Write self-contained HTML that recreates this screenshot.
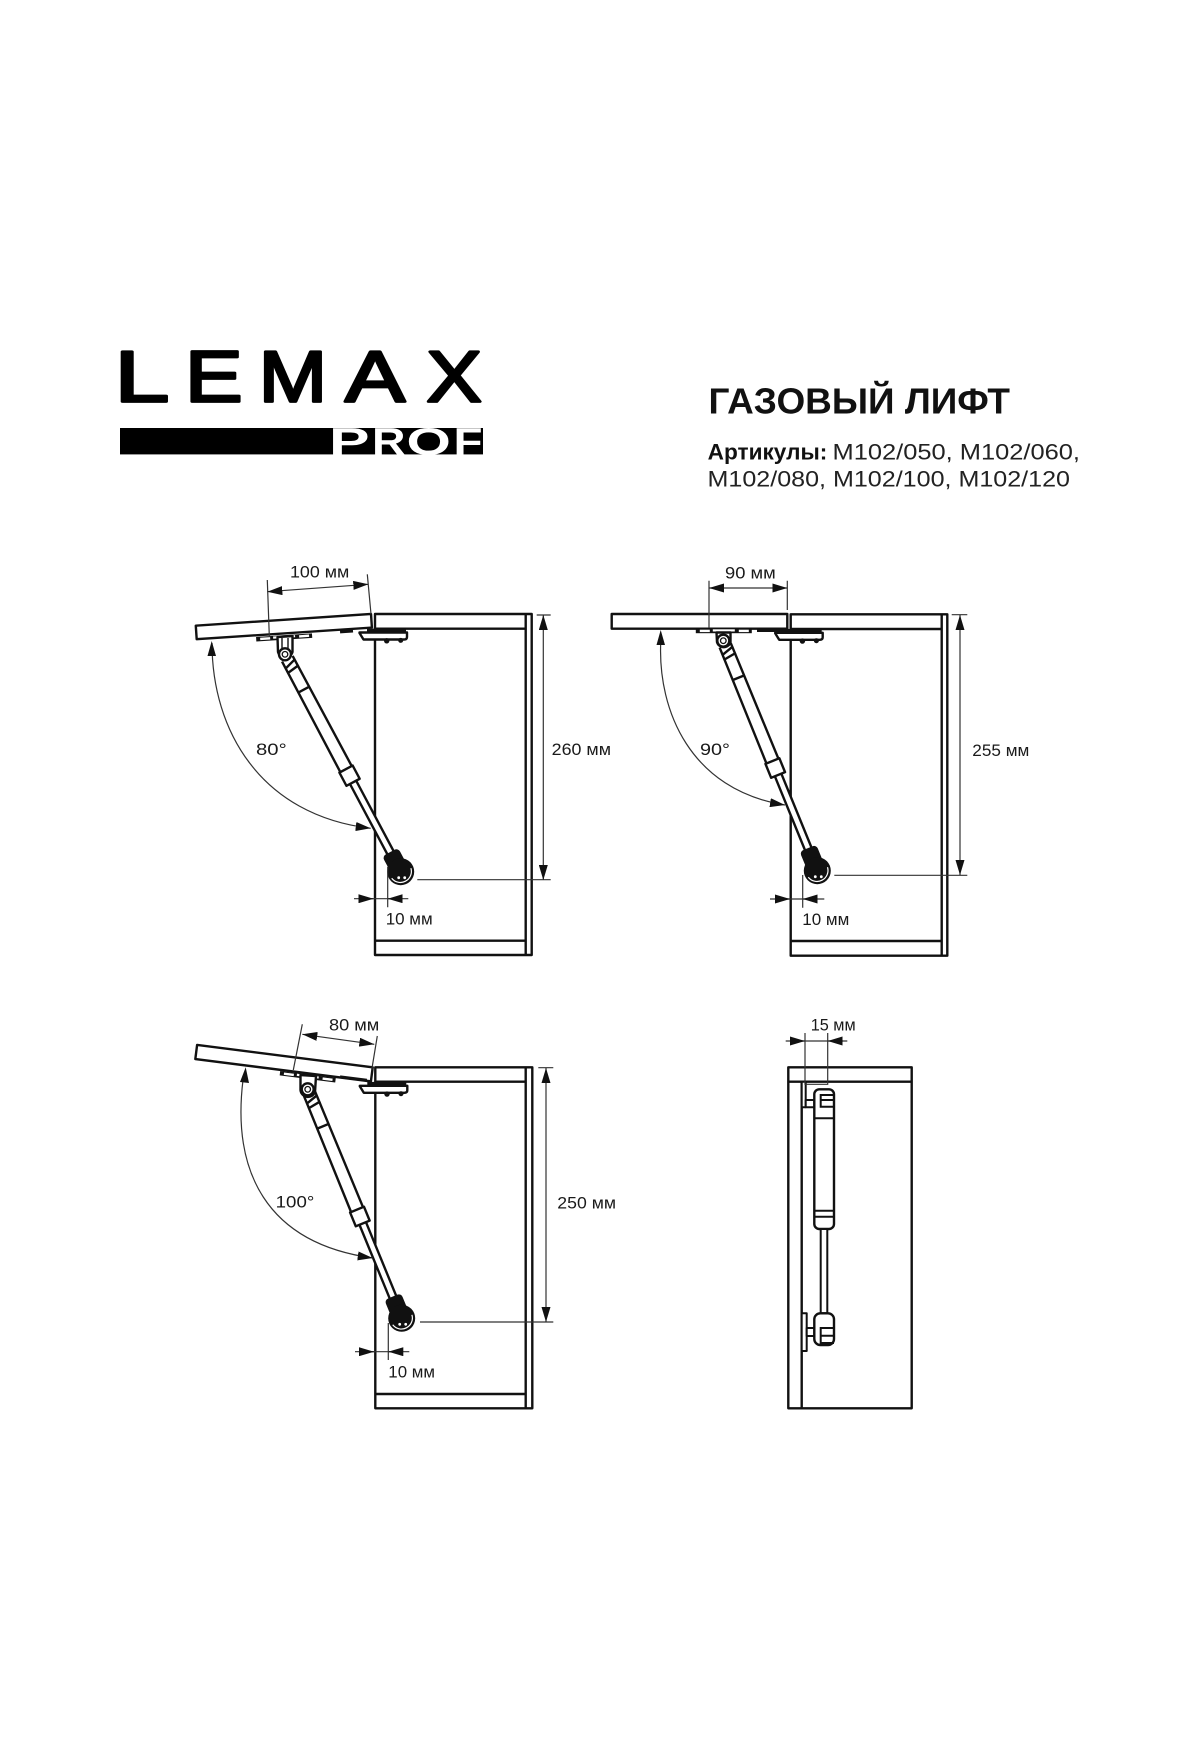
<!DOCTYPE html>
<html lang="ru">
<head>
<meta charset="utf-8">
<title>Газовый лифт</title>
<style>
html,body{margin:0;padding:0;background:#fff;width:1200px;height:1760px;overflow:hidden}
svg{display:block}
text{font-family:"Liberation Sans","DejaVu Sans",sans-serif;fill:#1a1a1a}
.l{font-size:17px}
.m{fill:#fff;stroke:#111;stroke-width:2.4;stroke-linejoin:round}
.n{fill:none;stroke:#111;stroke-width:2.4}
.d{fill:none;stroke:#333;stroke-width:1.2}
.a{fill:none;stroke:#333;stroke-width:1.2;marker-end:url(#ah)}
.b{fill:none;stroke:#333;stroke-width:1.2;marker-end:url(#ah);marker-start:url(#ah)}
.k{fill:#111}
.s{stroke-width:2}
</style>
</head>
<body>
<svg width="1200" height="1760" viewBox="0 0 1200 1760" xmlns="http://www.w3.org/2000/svg">
<defs>
<marker id="ah" viewBox="0 0 15 9" refX="15" refY="4.5" markerWidth="15" markerHeight="9" markerUnits="userSpaceOnUse" orient="auto-start-reverse"><path d="M0,0L15,4.5L0,9Z" fill="#111"/></marker>

<g id="hinge">
<rect x="-8" y="14.6" width="39" height="3.8" class="k"/>
<path class="m" d="M-15.5,19 L-11.5,25.5 L29,25.5 Q32,25.5 32,23 V18.5 H-15.5 Z"/>
<circle class="k" cx="11.7" cy="26.8" r="2.7"/>
<circle class="k" cx="25.7" cy="26.4" r="2.5"/>
</g>

<g id="cyl">
<path class="m" d="M-6,5 L-6.5,144 H6.5 L6,5"/>
<rect class="m" x="-3.5" y="144" width="7" height="84"/>
<path class="n" d="M-6.5,13 L6.5,9"/>
<path class="n" d="M-7,18 L7,16"/>
<path class="n" d="M-7,40 L7,40"/>
<rect class="m" x="-7.5" y="130" width="15" height="15"/>
<rect class="k" x="-9" y="224" width="18" height="20" rx="4"/>
</g>

<g id="wheel">
<circle class="k" r="13.5"/>
<path d="M10.2,-3.5 A11,11 0 0 1 -9,6.5" fill="none" stroke="#fff" stroke-width="1.2"/>
<circle cx="-2" cy="6" r="1.4" fill="#fff"/>
<circle cx="4" cy="6" r="1.4" fill="#fff"/>
</g>

<g id="plate">
<rect x="-28" y="0" width="56" height="4.5" class="k"/>
<rect x="-24" y="1" width="10" height="2.4" fill="#fff"/>
<rect x="-11" y="0.6" width="22" height="2.2" fill="#fff"/>
<rect x="15" y="1" width="10" height="2.4" fill="#fff"/>
</g>

<g id="ring">
<circle r="6" class="m"/>
<circle r="2.8" fill="#fff" stroke="#111" stroke-width="1.3"/>
</g>
</defs>

<!-- LOGO -->
<g style="font-size:72px" stroke="#000" stroke-width="2.8" stroke-linejoin="round">
<text transform="translate(114.5 401.5) scale(1.37 1)" style="fill:#000">L</text>
<text transform="translate(185 401.5) scale(1.2 1)" style="fill:#000">E</text>
<text transform="translate(258.8 401.5) scale(1.14 1)" style="fill:#000">M</text>
<text transform="translate(345 401.5) scale(1.25 1)" style="fill:#000">A</text>
<text transform="translate(426.5 401.5) scale(1.15 1)" style="fill:#000">X</text>
</g>
<rect x="120" y="428" width="363" height="26.4" fill="#000"/>
<g style="font-size:38px;font-weight:bold">
<text transform="translate(329 454.3) scale(1.6 1)" style="fill:#fff">P</text>
<text transform="translate(372 454.3) scale(1.22 1)" style="fill:#fff">R</text>
<text transform="translate(406.5 454.3) scale(1.5 1)" style="fill:#fff">O</text>
<text transform="translate(453.5 454.3) scale(1.25 1)" style="fill:#fff">F</text>
</g>

<!-- TITLE -->
<text x="708.5" y="413.3" font-size="36" font-weight="bold" textLength="301.5" lengthAdjust="spacingAndGlyphs" style="fill:#111">ГАЗОВЫЙ ЛИФТ</text>
<text x="707.7" y="459.3" font-size="22" font-weight="bold" textLength="119.6" lengthAdjust="spacingAndGlyphs" style="fill:#111">Артикулы:</text>
<text x="832.5" y="459.3" font-size="22" textLength="247.5" lengthAdjust="spacingAndGlyphs" style="fill:#222">M102/050, M102/060,</text>
<text x="707.5" y="486.5" font-size="22" textLength="362.5" lengthAdjust="spacingAndGlyphs" style="fill:#222">M102/080, M102/100, M102/120</text>

<!-- DIAGRAM 1 : 80° -->
<rect class="m" x="375" y="614" width="156.7" height="341"/>
<path class="n" d="M375,628.7H525.7M525.7,614V955M375,940.7H525.7"/>
<use href="#hinge" x="375" y="614"/>
<g transform="translate(371 614) rotate(-3.8)">
<rect class="m" x="-175.6" y="0" width="175.6" height="13.6"/>
</g>
<use href="#plate" transform="translate(284 635.2) rotate(-3.8)"/>
<rect class="k" x="340" y="630" width="13" height="3" transform="rotate(-3.8 346 631)"/>
<use href="#cyl" transform="translate(285 654.3) rotate(-28)"/>
<path class="m" d="M277.5,637 L278,652 A7.5,7.5 0 0 0 292.5,652 L292.5,636 Z"/>
<path class="n" d="M282,638V648M288,638V648" style="stroke-width:1.4"/>
<use href="#ring" x="285" y="654.3"/>
<use href="#wheel" x="400.7" y="871.7"/>
<path class="d" d="M267.3,580L269.3,636M367.3,574.3L371,614"/>
<line class="b" x1="267.3" y1="591.7" x2="368.3" y2="584.3"/>
<path class="a" d="M212,643 C212,730 260,815 370.7,828.3" />
<path d="M211.7,641L207.5,656L216,656Z" class="k"/>
<path class="d" d="M387.7,866.7V907.3M354,898.7H408.3M417.3,879.7H550.7M536.7,615H550.7"/>
<line class="a" x1="359" y1="898.7" x2="373.5" y2="898.7"/>
<line class="a" x1="402" y1="898.7" x2="387.7" y2="898.7"/>
<line class="b" x1="543.3" y1="615" x2="543.3" y2="880"/>
<text class="l" x="290" y="577.7" textLength="59.3" lengthAdjust="spacingAndGlyphs">100 мм</text>
<text class="l" x="256" y="755" textLength="30.7" lengthAdjust="spacingAndGlyphs">80°</text>
<text class="l" x="385.7" y="924.3" textLength="47" lengthAdjust="spacingAndGlyphs">10 мм</text>
<text class="l" x="551.7" y="755" textLength="59.3" lengthAdjust="spacingAndGlyphs">260 мм</text>

<!-- DIAGRAM 2 : 90° -->
<rect class="m" x="790.7" y="614.3" width="156.6" height="341.4"/>
<path class="n" d="M790.7,629H941.7M941.7,614.3V955.7M790.7,941H941.7"/>
<use href="#hinge" x="790.7" y="614.3"/>
<rect class="m" x="611.7" y="614" width="175.6" height="14.7"/>
<use href="#plate" x="723.8" y="628.7"/>
<rect class="k" x="757" y="629" width="28" height="3"/>
<use href="#cyl" transform="translate(723.3 640.7) rotate(-22.2)"/>
<path class="m" d="M716.5,632.5 L717,642 A7,7 0 0 0 730.5,642 L730.5,632.5 Z"/>
<use href="#ring" x="723.3" y="640.7"/>
<use href="#wheel" x="817.3" y="870.7"/>
<path class="d" d="M709,580.7V628M787.3,580.7V610"/>
<line class="b" x1="709" y1="588" x2="787.3" y2="588"/>
<path class="a" d="M660.7,643 C658,710 690,790 785,805"/>
<path d="M660.7,630L656.5,645L665,645Z" class="k"/>
<path class="d" d="M802.7,875V907.7M770,899H824.3M834.3,875.3H967.3M951.7,614.7H967.3"/>
<line class="a" x1="775" y1="899" x2="790" y2="899"/>
<line class="a" x1="817" y1="899" x2="802.7" y2="899"/>
<line class="b" x1="960" y1="615" x2="960" y2="875"/>
<text class="l" x="725" y="578.3" textLength="50.7" lengthAdjust="spacingAndGlyphs">90 мм</text>
<text class="l" x="700" y="755" textLength="30" lengthAdjust="spacingAndGlyphs">90°</text>
<text class="l" x="802.3" y="925" textLength="47" lengthAdjust="spacingAndGlyphs">10 мм</text>
<text class="l" x="972.3" y="756" textLength="57" lengthAdjust="spacingAndGlyphs">255 мм</text>

<!-- DIAGRAM 3 : 100° -->
<rect class="m" x="375.3" y="1067.3" width="157" height="341"/>
<path class="n" d="M375.3,1081.7H525.7M525.7,1067.3V1408.3M375.3,1394H525.7"/>
<use href="#hinge" x="375.3" y="1067.3"/>
<g transform="translate(372.7 1067.3) rotate(7.26)">
<rect class="m" x="-177" y="0" width="177" height="14.2"/>
</g>
<use href="#plate" transform="translate(308 1074.5) rotate(7.26)"/>
<rect class="k" x="340" y="1077" width="27" height="3" transform="rotate(7.26 353 1078)"/>
<use href="#cyl" transform="translate(307.7 1089.3) rotate(-22.3)"/>
<path class="m" d="M300.5,1075 L300.5,1090 A7.5,7.5 0 0 0 315,1092 L316,1076 Z"/>
<use href="#ring" x="307.7" y="1089.3"/>
<use href="#wheel" x="401.7" y="1318.3"/>
<path class="d" d="M302.3,1024.3L293.3,1070M377.3,1036L371.7,1070"/>
<line class="b" x1="302.3" y1="1034.3" x2="374.3" y2="1044.3"/>
<path class="a" d="M243,1080 C232,1170 265,1243 372.7,1258"/>
<path d="M245.7,1067.3L240,1082L249,1083Z" class="k"/>
<path class="d" d="M388.3,1323V1360M355,1351.7H409.3M420,1322H553.3M538.3,1067.7H553.3"/>
<line class="a" x1="360" y1="1351.7" x2="374" y2="1351.7"/>
<line class="a" x1="403" y1="1351.7" x2="388.3" y2="1351.7"/>
<line class="b" x1="546" y1="1068" x2="546" y2="1322"/>
<text class="l" x="329" y="1030.7" textLength="50.3" lengthAdjust="spacingAndGlyphs">80 мм</text>
<text class="l" x="275.7" y="1207.3" textLength="38.6" lengthAdjust="spacingAndGlyphs">100°</text>
<text class="l" x="388.3" y="1377.3" textLength="46.7" lengthAdjust="spacingAndGlyphs">10 мм</text>
<text class="l" x="557.3" y="1208.3" textLength="58.7" lengthAdjust="spacingAndGlyphs">250 мм</text>

<!-- DIAGRAM 4 : side view -->
<rect class="m" x="788.3" y="1067.3" width="123.4" height="341"/>
<path class="n" d="M788.3,1081.7H911.7M801.7,1081.7V1408.3"/>
<rect class="m s" x="801.7" y="1081.7" width="4" height="25.6"/>
<rect class="m s" x="805.7" y="1100" width="8.6" height="7.3"/>
<rect class="m" x="814.3" y="1089.3" width="19.7" height="139.7" rx="5"/>
<path class="n s" d="M814.3,1118.3H834M814.3,1210.7H834M814.3,1216.7H834M834,1095H820.7V1106.7H834M820.7,1100H834"/>
<rect class="m s" x="820.7" y="1229" width="6.6" height="84.3"/>
<rect class="m s" x="801.7" y="1313.3" width="5" height="37.7"/>
<rect class="m s" x="806.7" y="1328" width="7.6" height="8"/>
<rect class="m" x="814.3" y="1313.3" width="19.7" height="31.7" rx="6"/>
<path class="n s" d="M834,1328H820.7V1343H834M820.7,1335.7H834"/>
<path class="d" d="M805,1033V1084.3H827.7V1033M785.7,1041H847.3"/>
<line class="a" x1="790" y1="1041" x2="805" y2="1041"/>
<line class="a" x1="843" y1="1041" x2="827.7" y2="1041"/>
<text class="l" x="810.7" y="1030.7" textLength="45" lengthAdjust="spacingAndGlyphs">15 мм</text>
</svg>
</body>
</html>
